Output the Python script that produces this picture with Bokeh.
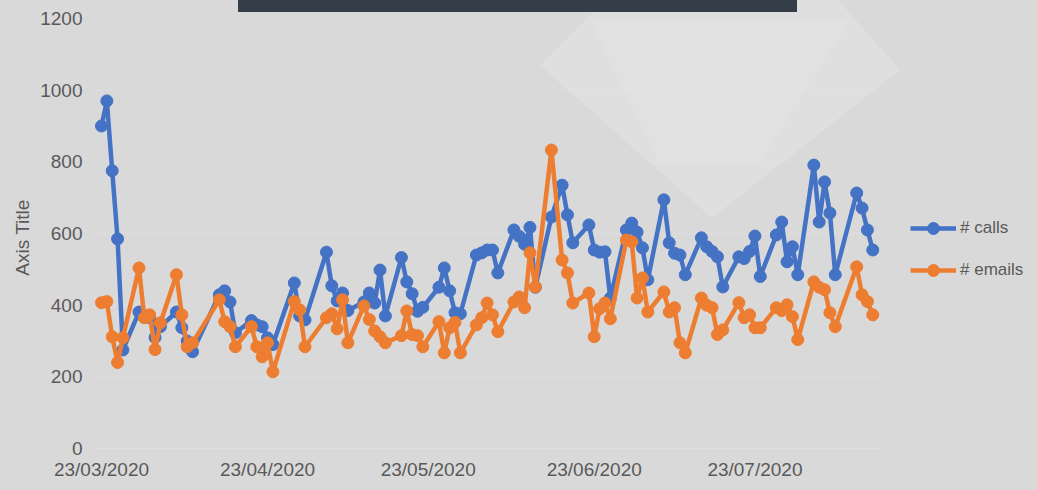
import pandas as pd
from urllib.parse import quote
from bokeh.plotting import figure
from bokeh.models import (ColumnDataSource, Range1d, FixedTicker,
                          DatetimeTickFormatter, Legend, LegendItem)
from bokeh.embed import file_html
from bokeh.resources import INLINE

# ---------------- data ----------------
dates = [
    "2020-03-23", "2020-03-24", "2020-03-25", "2020-03-26", "2020-03-27",
    "2020-03-30", "2020-03-31", "2020-04-01", "2020-04-02", "2020-04-03",
    "2020-04-06", "2020-04-07", "2020-04-08", "2020-04-09",
    "2020-04-14", "2020-04-15", "2020-04-16", "2020-04-17",
    "2020-04-20", "2020-04-21", "2020-04-22", "2020-04-23", "2020-04-24",
    "2020-04-28", "2020-04-29", "2020-04-30",
    "2020-05-04", "2020-05-05", "2020-05-06", "2020-05-07", "2020-05-08",
    "2020-05-11", "2020-05-12", "2020-05-13", "2020-05-14", "2020-05-15",
    "2020-05-18", "2020-05-19", "2020-05-20", "2020-05-21", "2020-05-22",
    "2020-05-25", "2020-05-26", "2020-05-27", "2020-05-28", "2020-05-29",
    "2020-06-01", "2020-06-02", "2020-06-03", "2020-06-04", "2020-06-05",
    "2020-06-08", "2020-06-09", "2020-06-10", "2020-06-11", "2020-06-12",
    "2020-06-15", "2020-06-17", "2020-06-18", "2020-06-19",
    "2020-06-22", "2020-06-23", "2020-06-24", "2020-06-25", "2020-06-26",
    "2020-06-29", "2020-06-30", "2020-07-01", "2020-07-02", "2020-07-03",
    "2020-07-06", "2020-07-07", "2020-07-08", "2020-07-09", "2020-07-10",
    "2020-07-13", "2020-07-14", "2020-07-15", "2020-07-16", "2020-07-17",
    "2020-07-20", "2020-07-21", "2020-07-22", "2020-07-23", "2020-07-24",
    "2020-07-27", "2020-07-28", "2020-07-29", "2020-07-30", "2020-07-31",
    "2020-08-03", "2020-08-04", "2020-08-05", "2020-08-06", "2020-08-07",
    "2020-08-11", "2020-08-12", "2020-08-13", "2020-08-14",
]

calls = [
    900, 970, 775, 585, 275,
    381, 370, 365, 310, 340,
    381, 337, 300, 270,
    429, 440, 409, 323,
    357, 345, 340, 309, 290,
    462, 370, 359,
    548, 454, 412, 434, 385,
    409, 434, 406, 498, 370,
    533, 465, 432, 383, 394,
    450, 504, 440, 379, 376,
    540, 546, 554, 554, 490,
    610, 592, 570, 617, 450,
    646, 735, 652, 574,
    624, 554, 548, 549, 420,
    610, 629, 604, 560, 471,
    694, 574, 545, 540, 485,
    588, 563, 550, 535, 451,
    535, 530, 550, 593, 480,
    596, 632, 521, 563, 485,
    791, 632, 744, 657, 485,
    713, 671, 610, 554,
]

emails = [
    407, 410, 312, 240, 309,
    504, 365, 373, 276, 351,
    485, 373, 284, 295,
    415, 354, 340, 284,
    340, 284, 256, 295, 214,
    410, 387, 284,
    365, 376, 334, 415, 295,
    398, 360, 328, 312, 295,
    315, 384, 318, 315, 284,
    354, 267, 337, 352, 267,
    345, 365, 406, 373, 326,
    409, 423, 393, 546, 451,
    833, 526, 490, 406,
    434, 312, 390, 406, 362,
    582, 577, 420, 476, 381,
    437, 381, 393, 295, 267,
    420, 400, 393, 318, 331,
    407, 365, 373, 337, 337,
    393, 385, 401, 368, 304,
    465, 450, 443, 379, 340,
    507, 429, 410, 373,
]

series_names = ["# calls", "# emails"]
x_tick_dates = ["2020-03-23", "2020-04-23", "2020-05-23", "2020-06-23", "2020-07-23"]
y_ticks = [0, 200, 400, 600, 800, 1000, 1200]

# ---------------- style ----------------
BLUE = "#4472C4"
ORANGE = "#ED7D31"
TEXT = "#595959"
FONT = "Liberation Sans"

src = ColumnDataSource(dict(x=pd.to_datetime(dates), calls=calls, emails=emails))

# x scale: about 5.356 px per day; the frame runs from x=85 to the canvas' right edge
PX_PER_DAY = 5.356
FRAME_LEFT, FIG_W, FIG_H = 85, 1021, 474
x_start = pd.Timestamp("2020-03-21 12:10")
plot_end = x_start + pd.Timedelta(days=(875 - FRAME_LEFT) / PX_PER_DAY)   # end of plot area
canvas_end = x_start + pd.Timedelta(days=(FIG_W - FRAME_LEFT) / PX_PER_DAY)

p = figure(
    width=FIG_W, height=FIG_H, x_axis_type="datetime",
    output_backend="svg", toolbar_location=None,
    x_range=Range1d(x_start, canvas_end),
    y_range=Range1d(-22.27, 1200),
    min_border_left=FRAME_LEFT, min_border_right=0, min_border_top=10, min_border_bottom=25,
    background_fill_alpha=0, border_fill_alpha=0, outline_line_color=None,
)

for ax in (p.xaxis[0], p.yaxis[0]):
    ax.axis_line_color = None
    ax.major_tick_line_color = None
    ax.minor_tick_line_color = None
    ax.major_tick_out = 0
    ax.major_tick_in = 0
    ax.minor_tick_out = 0
    ax.minor_tick_in = 0
    ax.major_label_text_font = FONT
    ax.major_label_text_color = TEXT
    ax.major_label_text_font_size = "19px"

p.xaxis.major_label_standoff = 2
p.yaxis.major_label_standoff = 11

p.xaxis.ticker = FixedTicker(ticks=[pd.Timestamp(t).value // 10**6 for t in x_tick_dates])
fmt = "%d/%m/%Y"
p.xaxis.formatter = DatetimeTickFormatter(
    microseconds=fmt, milliseconds=fmt, seconds=fmt, minsec=fmt, minutes=fmt,
    hourmin=fmt, hours=fmt, days=fmt, months=fmt, years=fmt,
    strip_leading_zeros=False, context=None)
p.yaxis.ticker = FixedTicker(ticks=y_ticks)

p.yaxis.axis_label = "Axis Title"
p.yaxis.axis_label_text_font = FONT
p.yaxis.axis_label_text_font_size = "19px"
p.yaxis.axis_label_text_font_style = "normal"
p.yaxis.axis_label_text_color = TEXT
p.yaxis.axis_label_standoff = 4

# faint horizontal gridlines limited to the plotting area
p.xgrid.grid_line_color = None
p.ygrid.grid_line_color = None
p.segment(x0=[x_start] * len(y_ticks), x1=[plot_end] * len(y_ticks),
          y0=y_ticks, y1=y_ticks, line_color="white", line_alpha=0.15, line_width=1)

l1 = p.line("x", "calls", source=src, line_color=BLUE, line_width=4.5)
s1 = p.scatter("x", "calls", source=src, size=12, fill_color=BLUE, line_color=BLUE)
l2 = p.line("x", "emails", source=src, line_color=ORANGE, line_width=4.5)
s2 = p.scatter("x", "emails", source=src, size=12, fill_color=ORANGE, line_color=ORANGE)

legend = Legend(
    items=[LegendItem(label=series_names[0], renderers=[l1, s1]),
           LegendItem(label=series_names[1], renderers=[l2, s2])],
    location=(817, 171), orientation="vertical",
    padding=0, margin=0, spacing=12,
    glyph_height=30, glyph_width=46, label_height=30, label_standoff=4,
    label_text_font=FONT, label_text_font_size="17px", label_text_color=TEXT,
    background_fill_alpha=0, border_line_alpha=0,
)
p.add_layout(legend, "center")

# ---------------- page background decoration ----------------
svg = ("<svg xmlns='http://www.w3.org/2000/svg' width='1037' height='490'>"
       "<rect width='1037' height='490' fill='#d9d9d9'/>"
       "<polygon points='540,65 606,0 838,0 900,70 712,218' fill='#dfdfdf'/>"
       "<polygon points='590,20 850,20 760,162 660,162' fill='#e2e2e2' opacity='0.6'/>"
       "<rect x='238' y='0' width='559' height='12' fill='#343e48'/>"
       "</svg>")
css = ("<style>html{background:#d9d9d9 url(\"data:image/svg+xml," + quote(svg) +
       "\") no-repeat 0 0;} html,body{height:auto;} body{margin:8px;padding:0;}</style>")

html = file_html(p, INLINE, title="calls and emails")
html = html.replace("</head>", css + "</head>")
open("out.html", "w").write(html)
